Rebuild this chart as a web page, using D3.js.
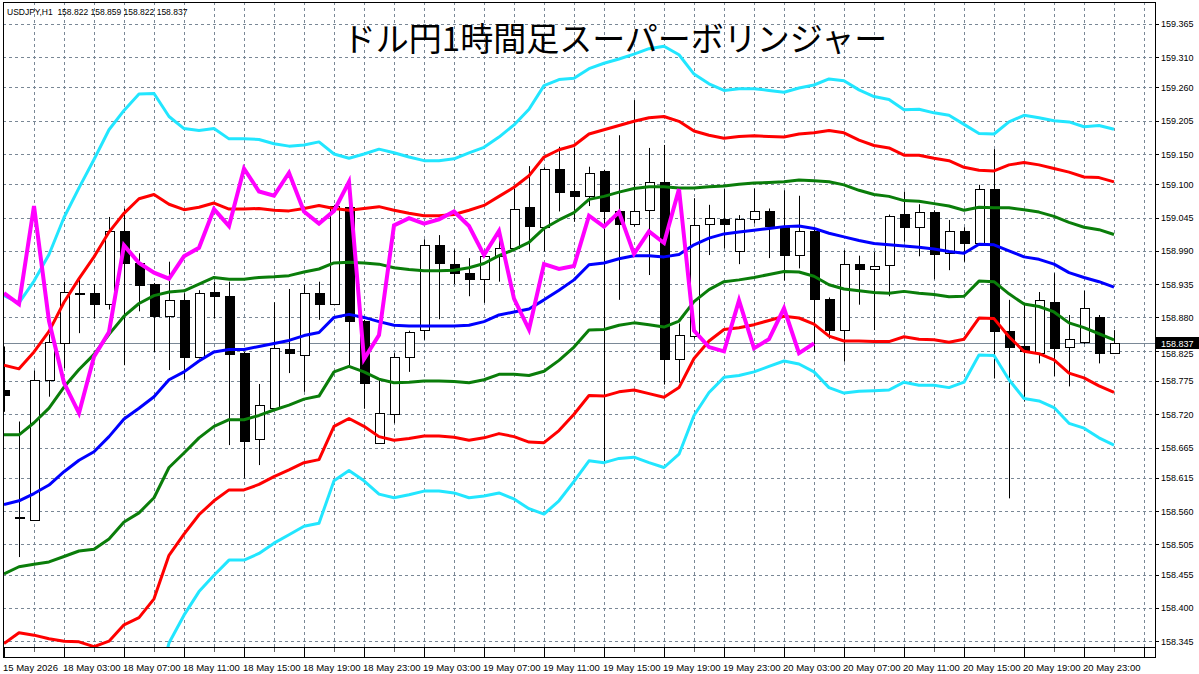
<!DOCTYPE html>
<html><head><meta charset="utf-8">
<script src="https://cdn.jsdelivr.net/npm/d3@7/dist/d3.min.js"></script>
<style>html,body{margin:0;padding:0;background:#fff;overflow:hidden}svg{display:block}</style>
</head><body>
<svg id="chart" width="1199" height="674"></svg>
<script>
// ---------- data ----------
const symbolInfo = "USDJPY,H1  158.822 158.859 158.822 158.837";
const chartTitle = "ドル円1時間足スーパーボリンジャー";
const lastPrice = 158.837;
const lagShift = 20; // lagging span: close shifted back

const opens = [158.760,158.551,158.546,158.777,158.838,158.921,158.920,158.902,159.023,158.970,
158.935,158.882,158.909,158.815,158.922,158.915,158.821,158.679,158.731,158.827,
158.818,158.921,158.902,159.062,158.874,158.673,158.720,158.815,158.859,158.999,
158.969,158.954,158.944,158.981,158.994,159.062,159.030,159.125,159.089,159.080,
159.122,159.055,159.035,159.057,159.104,158.811,158.849,159.035,159.043,158.989,
159.042,159.055,159.029,158.983,159.023,158.911,158.859,158.969,158.960,158.967,
159.051,159.030,159.054,158.986,159.023,159.003,159.092,158.858,158.833,158.822,
158.906,158.831,158.840,158.880,158.822];
const highs = [158.832,158.708,158.792,158.852,158.939,158.942,158.935,159.046,159.060,158.986,
158.937,158.972,158.920,158.925,158.939,158.939,158.823,158.770,158.905,158.927,
158.934,158.939,159.066,159.065,158.876,158.777,158.821,158.858,159.009,159.016,
158.992,158.978,158.983,159.024,159.093,159.130,159.128,159.162,159.160,159.129,
159.124,159.181,159.239,159.160,159.165,158.870,159.077,159.066,159.092,159.049,
159.093,159.060,159.090,159.081,159.026,158.913,158.991,158.982,158.988,159.050,
159.088,159.067,159.057,159.041,159.029,159.099,159.158,158.909,158.901,158.922,
158.953,158.884,158.924,158.884,158.859];
const lows = [158.724,158.484,158.546,158.749,158.796,158.854,158.878,158.893,158.801,158.890,
158.823,158.793,158.777,158.812,158.878,158.669,158.614,158.636,158.731,158.788,
158.757,158.876,158.900,158.801,158.729,158.671,158.705,158.790,158.843,158.877,
158.935,158.915,158.904,158.939,158.992,158.989,158.989,159.055,159.038,159.064,
158.642,158.909,159.030,158.950,158.769,158.772,158.845,158.983,158.994,158.968,
159.035,158.978,158.941,158.961,158.823,158.845,158.807,158.901,158.859,158.915,
159.005,158.981,158.943,158.958,158.972,158.999,158.779,158.581,158.741,158.804,
158.783,158.766,158.836,158.804,158.822];
const closes = [158.751,158.549,158.777,158.840,158.922,158.920,158.902,159.023,158.970,158.933,
158.882,158.908,158.814,158.921,158.916,158.820,158.676,158.735,158.829,158.821,
158.920,158.902,159.064,158.874,158.772,158.722,158.815,158.856,158.999,158.970,
158.954,158.944,158.981,158.995,159.059,159.031,159.126,159.088,159.081,159.119,
159.055,159.035,159.056,159.104,158.811,158.851,159.032,159.044,159.035,159.042,
159.055,159.031,158.983,159.023,158.911,158.860,158.968,158.960,158.965,159.048,
159.030,159.054,158.985,159.022,159.003,159.092,158.858,158.831,158.824,158.908,
158.829,158.844,158.895,158.821,158.837];

// Bollinger middle line (21 SMA) and one-sigma width
const midBand = [158.571,158.577,158.589,158.603,158.625,158.644,158.658,158.683,158.712,158.730,
158.749,158.777,158.790,158.808,158.823,158.827,158.827,158.832,158.837,158.842,
158.850,158.855,158.880,158.885,158.880,158.873,158.867,158.866,158.866,158.866,
158.866,158.867,158.873,158.884,158.889,158.894,158.909,158.925,158.942,158.967,
158.970,158.977,158.982,158.982,158.980,158.984,159.000,159.011,159.018,159.021,
159.024,159.027,159.030,159.031,159.027,159.019,159.013,159.007,159.002,159.000,
158.998,158.996,158.993,158.989,158.986,159.001,159.000,158.990,158.980,158.976,
158.968,158.954,158.946,158.939,158.930];
const sigma = [0.115,0.109,0.117,0.127,0.140,0.150,0.161,0.169,0.170,0.173,
0.167,0.145,0.134,0.127,0.123,0.116,0.116,0.114,0.110,0.107,
0.105,0.105,0.090,0.086,0.090,0.095,0.095,0.093,0.091,0.091,
0.092,0.095,0.096,0.098,0.103,0.110,0.118,0.116,0.111,0.108,
0.110,0.110,0.111,0.114,0.116,0.110,0.094,0.085,0.079,0.079,
0.078,0.076,0.074,0.076,0.079,0.085,0.086,0.083,0.081,0.080,
0.075,0.076,0.075,0.075,0.071,0.061,0.061,0.071,0.078,0.078,
0.079,0.083,0.083,0.086,0.087];

const yTickLabels = ["159.365","159.310","159.260","159.205","159.150","159.100","159.045","158.990","158.935","158.880",
"158.825","158.775","158.720","158.665","158.615","158.560","158.505","158.455","158.400","158.345"];
const timeLabels = ["15 May 2026","18 May 03:00","18 May 07:00","18 May 11:00","18 May 15:00","18 May 19:00","18 May 23:00",
"19 May 03:00","19 May 07:00","19 May 11:00","19 May 15:00","19 May 19:00","19 May 23:00","20 May 03:00","20 May 07:00",
"20 May 11:00","20 May 15:00","20 May 19:00","20 May 23:00"];
const timeLabelBars = [0,4,8,12,16,20,24,28,32,36,40,44,48,52,56,60,64,68,72];

const bandDefs = [
  {k: 3, color: "#22e6ff"}, {k: -3, color: "#22e6ff"},
  {k: 2, color: "#ff0000"}, {k: -2, color: "#ff0000"},
  {k: 1, color: "#0a7d0a"}, {k: -1, color: "#0a7d0a"},
  {k: 0, color: "#0000ff"}
];

// ---------- layout ----------
const W = 1199, H = 674;
const plot = {left: 3, right: 1155, top: 2, bottom: 647};
const svg = d3.select("#chart");
const x = d3.scaleLinear().domain([0, 74]).range([4, 1114]);
const y = d3.scaleLinear().domain([158.345, 159.150]).range([641.2, 154]);
const px = v => Math.round(v) + 0.5;

svg.append("rect").attr("width", W).attr("height", H).attr("fill", "#fff");
svg.append("defs").append("clipPath").attr("id", "clip")
  .append("rect").attr("x", plot.left + 1).attr("y", plot.top + 1)
  .attr("width", plot.right - plot.left - 1).attr("height", plot.bottom - plot.top - 1);

const gridColor = "#7a8896";
const grid = svg.append("g");
yTickLabels.forEach(t => {
  const yy = px(y(+t));
  grid.append("line").attr("x1", plot.left).attr("x2", plot.right).attr("y1", yy).attr("y2", yy)
    .attr("stroke", gridColor).attr("stroke-width", 1).attr("stroke-dasharray", "3,3");
});
for (let i = 2; i <= 76; i += 2) {
  const xx = px(x(i));
  grid.append("line").attr("x1", xx).attr("x2", xx).attr("y1", plot.top).attr("y2", plot.bottom)
    .attr("stroke", gridColor).attr("stroke-width", 1).attr("stroke-dasharray", "3,3");
}

// current price line
svg.append("line").attr("x1", plot.left).attr("x2", plot.right)
  .attr("y1", px(y(lastPrice))).attr("y2", px(y(lastPrice)))
  .attr("stroke", "#7a8896").attr("stroke-width", 1);

const main = svg.append("g").attr("clip-path", "url(#clip)");

// candles
const bars = d3.range(opens.length);
const cg = main.append("g");
cg.selectAll("line.wick").data(bars).join("line").attr("class", "wick")
  .attr("x1", i => px(x(i))).attr("x2", i => px(x(i)))
  .attr("y1", i => y(highs[i])).attr("y2", i => y(lows[i]))
  .attr("stroke", "#000").attr("stroke-width", 1);
cg.selectAll("rect.body").data(bars).join("rect").attr("class", "body")
  .attr("x", i => Math.round(x(i)) - 4 + 0.5)
  .attr("width", 9)
  .attr("y", i => Math.round(y(Math.max(opens[i], closes[i]))) + 0.5)
  .attr("height", i => Math.max(1, Math.round(y(Math.min(opens[i], closes[i]))) - Math.round(y(Math.max(opens[i], closes[i])))))
  .attr("fill", i => closes[i] >= opens[i] ? "#fff" : "#000")
  .attr("stroke", "#000").attr("stroke-width", 1);

// bands
const line = d3.line().x((d, i) => x(i)).y(d => y(d));
bandDefs.forEach(b => {
  const vals = midBand.map((m, i) => m + b.k * sigma[i]);
  main.append("path").attr("d", line(vals)).attr("fill", "none")
    .attr("stroke", b.color).attr("stroke-width", 3).attr("stroke-linejoin", "round");
});

// lagging span
const lagging = closes.slice(lagShift);
main.append("path").attr("d", line(lagging)).attr("fill", "none")
  .attr("stroke", "#ff00ff").attr("stroke-width", 4).attr("stroke-linejoin", "miter");

// frame
svg.append("rect").attr("x", plot.left + 0.5).attr("y", plot.top + 0.5)
  .attr("width", plot.right - plot.left).attr("height", plot.bottom - plot.top)
  .attr("fill", "none").attr("stroke", "#000").attr("stroke-width", 1);
// time strip
svg.append("rect").attr("x", plot.left + 0.5).attr("y", plot.bottom + 0.5)
  .attr("width", plot.right - plot.left).attr("height", 10)
  .attr("fill", "none").attr("stroke", "#000").attr("stroke-width", 1);

// time axis ticks & labels
const tg = svg.append("g");
for (let i = 0; i <= 76; i += 2) {
  const xx = px(x(i));
  const major = i % 4 === 0;
  tg.append("line").attr("x1", xx).attr("x2", xx)
    .attr("y1", plot.bottom + 1).attr("y2", major ? plot.bottom + 10 : plot.bottom + 5)
    .attr("stroke", major ? "#000" : "#666").attr("stroke-width", 1);
}
timeLabels.forEach((t, j) => {
  tg.append("text").attr("x", x(timeLabelBars[j]) - 1).attr("y", 671)
    .attr("font-family", "'Liberation Sans', Arial, sans-serif").attr("font-size", "9.5px")
    .attr("fill", "#000").text(t);
});

// price axis
const ly = y(lastPrice);
const boxTop = Math.round(ly) - 6, boxH = 12;
const ag = svg.append("g");
yTickLabels.forEach(t => {
  const yy = y(+t);
  ag.append("line").attr("x1", plot.right).attr("x2", plot.right + 4)
    .attr("y1", px(yy)).attr("y2", px(yy)).attr("stroke", "#000");
  // keep the label clear of the current-price box
  let base = yy + 3.5;
  if (Math.abs(yy - ly) < 10) base = yy > ly ? boxTop + boxH + 8 : boxTop - 1;
  ag.append("text").attr("x", 1161).attr("y", base)
    .attr("font-family", "'Liberation Sans', Arial, sans-serif").attr("font-size", "9px")
    .attr("fill", "#000").text(t);
});
// current price box
ag.append("rect").attr("x", plot.right + 1).attr("y", boxTop).attr("width", 43).attr("height", boxH).attr("fill", "#000");
ag.append("text").attr("x", 1161).attr("y", ly + 3.5)
  .attr("font-family", "'Liberation Sans', Arial, sans-serif").attr("font-size", "9px")
  .attr("fill", "#fff").text(lastPrice.toFixed(3));

// header & title
svg.append("text").attr("x", 7).attr("y", 15)
  .attr("font-family", "'Liberation Sans', Arial, sans-serif").attr("font-size", "8.5px")
  .attr("fill", "#000").attr("xml:space", "preserve").style("white-space", "pre").text(symbolInfo);
svg.append("text").attr("x", 615).attr("y", 51).attr("text-anchor", "middle")
  .attr("font-family", "'Noto Sans CJK JP', 'Noto Sans CJK SC', sans-serif").attr("font-size", "33px")
  .attr("fill", "#000").text(chartTitle);
</script>
</body></html>
